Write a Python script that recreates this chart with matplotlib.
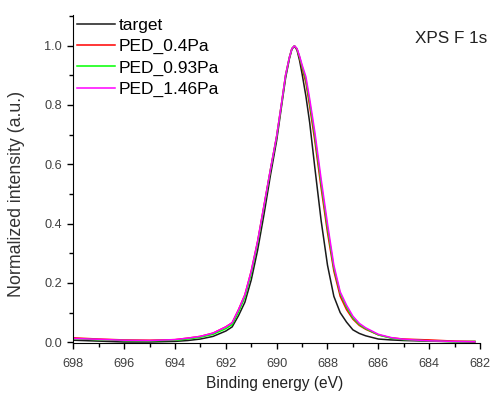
import matplotlib.pyplot as plt
from matplotlib.ticker import MultipleLocator

plt.rcParams['font.family'] = ['Liberation Sans', 'DejaVu Sans']

# binding energy grid (eV)
be = [698.0, 697.0, 696.0, 695.0, 694.0, 693.5, 693.0, 692.5, 692.0, 691.75,
      691.5, 691.25, 691.0, 690.75, 690.5, 690.25, 690.0, 689.8, 689.65, 689.5,
      689.4, 689.3, 689.2, 689.1, 689.0, 688.85, 688.7, 688.5, 688.25, 688.0,
      687.75, 687.5, 687.25, 687.0, 686.75, 686.5, 686.0, 685.5, 685.0, 684.0,
      683.0, 682.2]

target = [0.007, 0.004, 0.001, 0.001, 0.003, 0.006, 0.011, 0.020, 0.038, 0.052,
          0.090, 0.135, 0.210, 0.310, 0.430, 0.560, 0.680, 0.800, 0.890, 0.955,
          0.988, 0.998, 0.985, 0.950, 0.905, 0.830, 0.740, 0.590, 0.410, 0.260,
          0.155, 0.100, 0.068, 0.042, 0.030, 0.022, 0.011, 0.008, 0.006, 0.004,
          0.002, 0.001]

ped_04 = [0.015, 0.011, 0.008, 0.007, 0.009, 0.014, 0.020, 0.031, 0.052, 0.066,
          0.110, 0.160, 0.240, 0.340, 0.460, 0.580, 0.695, 0.810, 0.900, 0.960,
          0.990, 0.999, 0.988, 0.960, 0.925, 0.875, 0.795, 0.680, 0.520, 0.370,
          0.240, 0.155, 0.110, 0.078, 0.057, 0.044, 0.025, 0.015, 0.011, 0.008,
          0.004, 0.003]

ped_093 = [0.012, 0.009, 0.006, 0.005, 0.007, 0.011, 0.017, 0.027, 0.046, 0.060,
           0.102, 0.152, 0.232, 0.335, 0.455, 0.578, 0.693, 0.808, 0.898, 0.960,
           0.990, 0.999, 0.989, 0.962, 0.930, 0.885, 0.808, 0.695, 0.535, 0.385,
           0.250, 0.165, 0.118, 0.082, 0.060, 0.046, 0.025, 0.014, 0.009, 0.005,
           0.002, 0.003]

ped_146 = [0.013, 0.010, 0.007, 0.006, 0.009, 0.014, 0.020, 0.031, 0.052, 0.066,
           0.110, 0.160, 0.240, 0.340, 0.460, 0.580, 0.695, 0.810, 0.900, 0.960,
           0.990, 0.999, 0.990, 0.965, 0.935, 0.895, 0.820, 0.710, 0.550, 0.400,
           0.260, 0.170, 0.125, 0.088, 0.064, 0.049, 0.027, 0.016, 0.010, 0.005,
           0.003, 0.002]

series = [("target", target, "#1a1a1a"),
          ("PED_0.4Pa", ped_04, "#ff0000"),
          ("PED_0.93Pa", ped_093, "#00ff00"),
          ("PED_1.46Pa", ped_146, "#ff00ff")]

fig = plt.figure(figsize=(4.91, 3.96), dpi=100)
ax = fig.add_axes([0.1493, 0.1338, 0.8283, 0.8283])

for name, vals, col in series:
    ax.plot(be, vals, color=col, lw=1.1, label=name)

ax.set_xlim(698, 682)
ax.set_ylim(-0.0024, 1.103)
ax.xaxis.set_major_locator(MultipleLocator(2))
ax.xaxis.set_minor_locator(MultipleLocator(1))
ax.yaxis.set_major_locator(MultipleLocator(0.2))
ax.yaxis.set_minor_locator(MultipleLocator(0.1))
ax.yaxis.set_major_formatter(plt.FuncFormatter(lambda v, p: f"{v:.1f}"))

for s in ("top", "right"):
    ax.spines[s].set_visible(False)
ax.tick_params(which="major", direction="out", length=4.5, width=1,
               labelsize=9.2, labelcolor="#404040")
ax.tick_params(axis="x", which="major", pad=6.5)
ax.tick_params(which="minor", direction="out", length=3, width=1)

ax.set_xlabel("Binding energy (eV)", fontsize=11.2, color="#222222")
ax.set_ylabel("Normalized intensity (a.u.)", fontsize=12.8, color="#333333")
ax.xaxis.set_label_coords(0.496, -0.10)
ax.yaxis.set_label_coords(-0.118, 0.455)

ax.legend(loc="upper left", bbox_to_anchor=(0.157, 0.955),
          bbox_transform=fig.transFigure, frameon=False, fontsize=12.5,
          handlelength=2.2, handletextpad=0.2, labelspacing=0.35,
          borderpad=0.0, borderaxespad=0.0)
fig.text(0.992, 0.9016, "XPS F 1s", ha="right", va="center",
         fontsize=12.3, color="#222222")

fig.savefig("out.png", dpi=100)
